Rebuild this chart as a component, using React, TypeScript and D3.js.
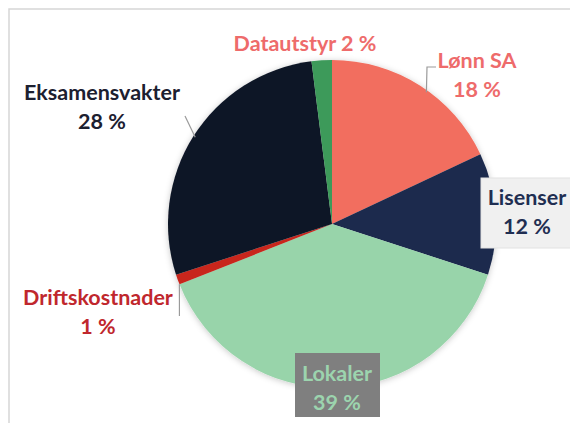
import React from "react";
import * as d3 from "d3";

const categories = ["Lønn SA", "Lisenser", "Lokaler", "Driftskostnader", "Eksamensvakter", "Datautstyr"];
const shares = [18, 12, 39, 1, 28, 2];
const sliceColors = ["#F26E5E", "#1C2A4D", "#98D4AA", "#C8261E", "#0F1626", "#3D9A5A"];
const labelColors = ["#EE6B6B", "#1F2E52", "#9CD4AE", "#C0272D", "#1C2030", "#EE6B6B"];

const W = 570;
const H = 423;
const cx = 332;
const cy = 224;
const R = 164;

// label layout: centre x, first baseline, two lines or one
const labelPos: Record<string, { x: number; y: number; oneLine?: boolean }> = {
  "Lønn SA": { x: 477, y: 68 },
  Lisenser: { x: 527, y: 205 },
  Lokaler: { x: 337, y: 381 },
  Driftskostnader: { x: 98, y: 305 },
  Eksamensvakter: { x: 102, y: 100 },
  Datautstyr: { x: 305, y: 51, oneLine: true },
};

export default function App() {
  const pie = d3.pie<number>().sort(null).value((d) => d);
  const arcs = pie(shares);
  const arc = d3.arc<d3.PieArcDatum<number>>().innerRadius(0).outerRadius(R);

  const edge = (a: number, r: number) => [cx + r * Math.sin(a), cy - r * Math.cos(a)];

  return (
    <svg width={W} height={H} style={{ position: "absolute", left: 0, top: 0, background: "#fff" }}
      fontFamily="Lato, 'Noto Sans', sans-serif" fontWeight="bold">
      <defs>
        <filter id="sh" x="-20%" y="-20%" width="140%" height="140%">
          <feDropShadow dx="0" dy="1" stdDeviation="3" floodColor="#000" floodOpacity="0.22" />
        </filter>
      </defs>
      <rect x={9} y={9} width={W + 20} height={H + 20} fill="#fff" stroke="#d6d6d6" strokeWidth={1.5} />

      <g transform={`translate(${cx},${cy})`} filter="url(#sh)">
        {arcs.map((a, i) => (
          <path key={categories[i]} d={arc(a) || ""} fill={sliceColors[i]} />
        ))}
      </g>

      {/* leader lines */}
      {(() => {
        const lonn = arcs[0];
        const [sx, sy] = edge(lonn.startAngle + (lonn.endAngle - lonn.startAngle) * 0.55, R - 2);
        const eks = arcs[4];
        const [ex, ey] = edge(eks.startAngle + (eks.endAngle - eks.startAngle) * 0.5, R - 2);
        const dr = arcs[3];
        const [dx, dy] = edge((dr.startAngle + dr.endAngle) / 2 - 0.03, R);
        return (
          <g stroke="#9a9a9a" strokeWidth={1.2} fill="none">
            <polyline points={`${sx},${sy} ${labelPos["Lønn SA"].x - 50},${labelPos["Lønn SA"].y - 1} ${labelPos["Lønn SA"].x - 41},${labelPos["Lønn SA"].y - 1}`} />
            <line x1={ex} y1={ey} x2={labelPos.Eksamensvakter.x + 83} y2={labelPos.Eksamensvakter.y + 16} />
            <line x1={dx} y1={dy} x2={dx} y2={labelPos.Driftskostnader.y + 11} />
          </g>
        );
      })()}

      {/* label boxes */}
      <rect x={481} y={178} width={100} height={70} fill="#F0F0F0" stroke="#e2e2e2" />
      <rect x={295} y={353} width={85} height={64} fill="#7F7F7F" />

      {categories.map((c, i) => {
        const p = labelPos[c];
        const pct = `${shares[i]} %`;
        if (p.oneLine) {
          return (
            <text key={c} x={p.x} y={p.y} textAnchor="middle" fontSize={21.5} fill={labelColors[i]}>
              {`${c} ${pct}`}
            </text>
          );
        }
        return (
          <text key={c} x={p.x} textAnchor="middle" fontSize={21.5} fill={labelColors[i]}>
            <tspan x={p.x} y={p.y}>{c}</tspan>
            <tspan x={p.x} y={p.y + 29}>{pct}</tspan>
          </text>
        );
      })}
    </svg>
  );
}
